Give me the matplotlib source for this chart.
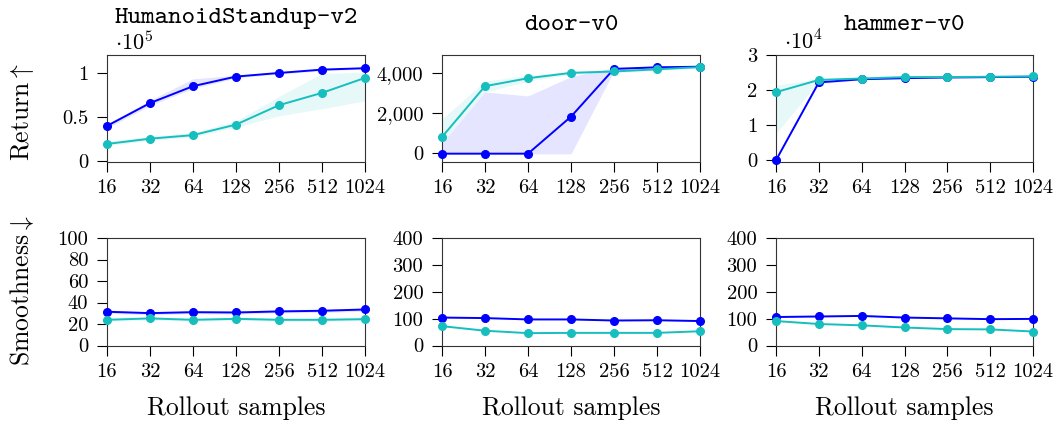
import matplotlib
matplotlib.use('Agg')
import matplotlib.pyplot as plt

plt.rcParams['font.family'] = ['cmr10', 'DejaVu Serif']
plt.rcParams['mathtext.fontset'] = 'cm'
plt.rcParams['axes.unicode_minus'] = False
plt.rcParams['axes.formatter.use_mathtext'] = True

W, H = 1060, 423

# rollout samples
samples = [16, 32, 64, 128, 256, 512, 1024]
sample_labels = ['16', '32', '64', '128', '256', '512', '1024']

# return, HumanoidStandup-v2
hum_a = [39500, 65400, 84600, 95500, 99600, 103400, 105000]
hum_a_lo = [37000, 62500, 82000, 94000, 98500, 102000, 104000]
hum_a_hi = [41500, 68500, 93000, 97000, 100800, 104500, 106000]
hum_b = [19000, 25000, 29000, 41000, 63000, 77000, 94000]
hum_b_lo = [17000, 23000, 27000, 38000, 51000, 59000, 68000]
hum_b_hi = [22000, 27500, 32000, 45000, 73000, 99000, 100500]

# return, door-v0
door_a = [-50, -50, -50, 1815, 4220, 4300, 4330]
door_a_lo = [-60, -60, -60, -60, 4120, 4250, 4280]
door_a_hi = [480, 3060, 2860, 3830, 4300, 4360, 4380]
door_b = [790, 3350, 3750, 4020, 4090, 4200, 4310]
door_b_lo = [500, 3050, 3600, 3950, 4030, 4150, 4260]
door_b_hi = [1700, 3600, 3900, 4100, 4160, 4260, 4360]

# return, hammer-v0
ham_a = [0, 22200, 23100, 23400, 23600, 23700, 23800]
ham_a_lo = [0, 21800, 22900, 23200, 23400, 23550, 23650]
ham_a_hi = [600, 22600, 23300, 23600, 23800, 23850, 23950]
ham_b = [19400, 22900, 23300, 23700, 23700, 23800, 23900]
ham_b_lo = [7600, 22500, 23100, 23500, 23550, 23650, 23750]
ham_b_hi = [21400, 23200, 23500, 23900, 23850, 23950, 24050]

# smoothness
hum_sm_a = [31.4, 30.1, 31.0, 30.7, 31.7, 32.3, 33.5]
hum_sm_b = [23.9, 25.2, 23.9, 24.8, 23.9, 23.9, 24.5]
door_sm_a = [104, 102, 97, 97, 93, 94, 91]
door_sm_b = [72, 55, 46, 47, 47, 47, 53]
ham_sm_a = [106, 108, 110, 104, 101, 98, 99]
ham_sm_b = [91, 80, 75, 67, 61, 60, 52]
sm_spread = [1.5, 1.5, 1.5, 1.5, 1.5, 1.5, 1.5]

c_a = '#0000ff'
c_b = '#17bebe'

fig = plt.figure(figsize=(W / 100, H / 100), dpi=100)


def px_axes(x0, y0, x1, y1):
    return fig.add_axes([x0 / W, (H - y1) / H, (x1 - x0) / W, (y1 - y0) / H])


def style(ax):
    ax.set_xscale('log', base=2)
    ax.set_xlim(16, 1024)
    ax.set_xticks(samples)
    ax.set_xticklabels(sample_labels)
    ax.minorticks_off()
    ax.tick_params(direction='out', length=7.5, width=0.8, labelsize=14.8,
                   top=False, right=False)
    ax.tick_params(axis='x', pad=5)
    ax.tick_params(axis='y', pad=6)
    for s in ax.spines.values():
        s.set_linewidth(0.8)
        s.set_color('#333333')


def draw(ax, y, lo, hi, color):
    ax.fill_between(samples, lo, hi, color=color, alpha=0.1, lw=0)
    ax.plot(samples, y, color=color, lw=1.4, marker='o', ms=5.5, zorder=3,
            clip_on=False)


cols = [(107, 365), (442, 700), (776, 1033)]
top = (55, 162)
bot = (238, 345.5)

# top row: return
ax = px_axes(cols[0][0], top[0], cols[0][1], top[1])
draw(ax, hum_a, hum_a_lo, hum_a_hi, c_a)
draw(ax, hum_b, hum_b_lo, hum_b_hi, c_b)
style(ax)
ax.set_ylim(-1500, 120000)
ax.set_yticks([0, 50000, 100000])
ax.set_yticklabels(['0', '0.5', '1'])
ax.text(0.03, 1.01, r'$\cdot 10^5$', transform=ax.transAxes, fontsize=16, va='bottom')

ax = px_axes(cols[1][0], top[0], cols[1][1], top[1])
draw(ax, door_a, door_a_lo, door_a_hi, c_a)
draw(ax, door_b, door_b_lo, door_b_hi, c_b)
style(ax)
ax.set_ylim(-470, 4920)
ax.set_yticks([0, 2000, 4000])
ax.set_yticklabels(['0', '2,000', '4,000'])

ax = px_axes(cols[2][0], top[0], cols[2][1], top[1])
draw(ax, ham_a, ham_a_lo, ham_a_hi, c_a)
draw(ax, ham_b, ham_b_lo, ham_b_hi, c_b)
style(ax)
ax.set_ylim(-500, 30000)
ax.set_yticks([0, 10000, 20000, 30000])
ax.set_yticklabels(['0', '1', '2', '3'])
ax.text(0.03, 1.01, r'$\cdot 10^4$', transform=ax.transAxes, fontsize=16, va='bottom')

# bottom row: smoothness
sm = [(hum_sm_a, hum_sm_b, 100, [0, 20, 40, 60, 80, 100]),
      (door_sm_a, door_sm_b, 400, [0, 100, 200, 300, 400]),
      (ham_sm_a, ham_sm_b, 400, [0, 100, 200, 300, 400])]
for (x0, x1), (ya, yb, ymax, yt) in zip(cols, sm):
    ax = px_axes(x0, bot[0], x1, bot[1])
    draw(ax, ya, [a - s for a, s in zip(ya, sm_spread)],
         [a + s for a, s in zip(ya, sm_spread)], c_a)
    draw(ax, yb, [b - s for b, s in zip(yb, sm_spread)],
         [b + s for b, s in zip(yb, sm_spread)], c_b)
    style(ax)
    ax.set_ylim(0, ymax)
    ax.set_yticks(yt)
    ax.set_yticklabels([str(v) for v in yt])
    fig.text((x0 + x1) / 2 / W, 1 - 408 / H, 'Rollout samples', fontsize=18.5,
             ha='center', va='center')

# titles
titles = ['HumanoidStandup-v2', 'door-v0', 'hammer-v0']
bases = [23, 30, 30]
for (x0, x1), t, b in zip(cols, titles, bases):
    fig.text((x0 + x1) / 2 / W, 1 - b / H, t, fontsize=18.5, family='cmtt10',
             ha='center', va='baseline')

fig.text(22 / W, 1 - 112 / H, r'Return$\uparrow$', fontsize=18.5, rotation=90,
         ha='center', va='center')
fig.text(22 / W, 1 - 291 / H, r'Smoothness$\downarrow$', fontsize=18.5, rotation=90,
         ha='center', va='center')

fig.savefig('out.png', dpi=100)
